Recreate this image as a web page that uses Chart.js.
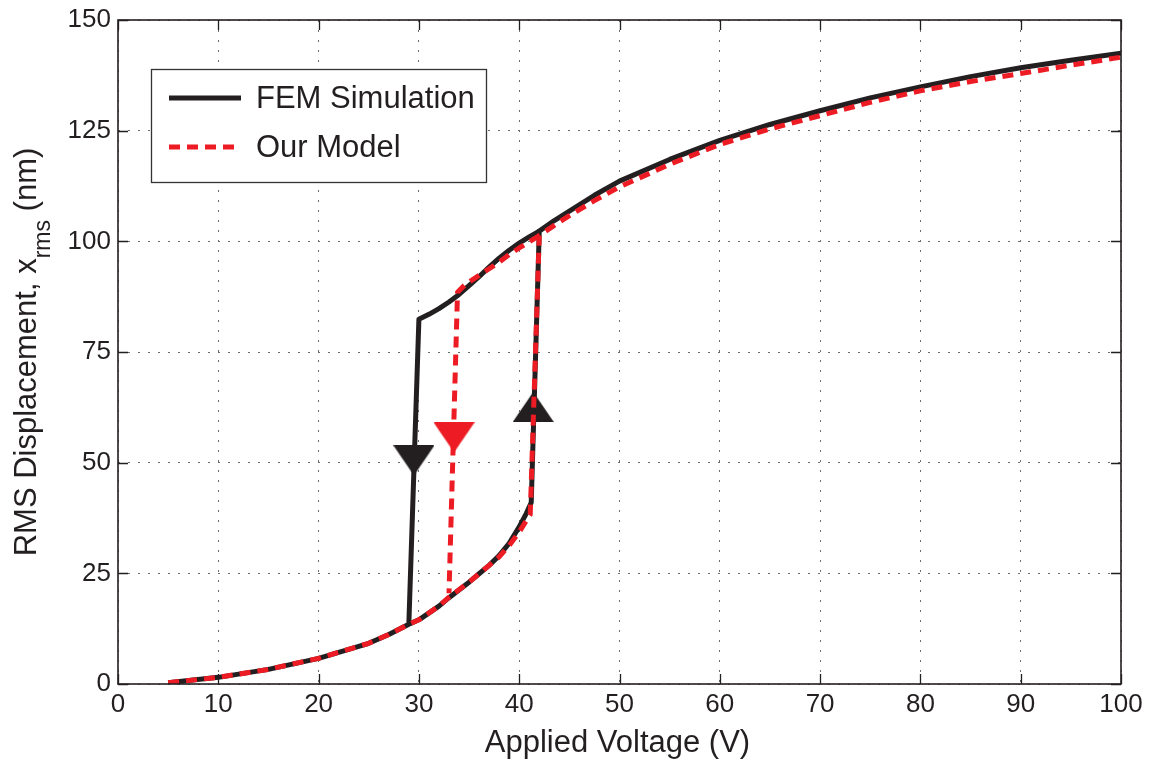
<!DOCTYPE html>
<html>
<head>
<meta charset="utf-8">
<script src="https://cdn.jsdelivr.net/npm/chart.js@4.4.1/dist/chart.umd.min.js"></script>
<style>
  html, body { margin: 0; padding: 0; background: #ffffff; }
  #wrap { width: 1151px; height: 762px; }
</style>
</head>
<body>
<div id="wrap"><canvas id="c" width="1151" height="762"></canvas></div>
<script>
// ---------- DATA ----------
// FEM simulation, forward (increasing voltage) sweep
const femFwdV = [5, 10, 15, 20, 25, 27, 29, 30, 32, 33, 35, 36, 37, 38, 39, 40, 40.7, 41.2, 42, 43.5, 45, 47.5, 50, 55, 60, 65, 70, 75, 80, 85, 90, 95, 100];
const femFwdY = [0.3, 1.5, 3.3, 5.8, 9.2, 11.2, 13.5, 14.5, 17.6, 19.5, 23, 24.9, 26.8, 29, 31.8, 35.5, 38.5, 41, 102.3, 104.7, 106.8, 110.4, 113.6, 118.5, 122.8, 126.4, 129.5, 132.4, 134.9, 137.2, 139.2, 140.9, 142.5];
// FEM simulation, backward (decreasing voltage) branch
const femBackV = [42, 41, 40, 39, 38, 37, 36, 35, 34, 33, 32, 31, 30, 29];
const femBackY = [102.3, 101, 99.6, 98, 96.2, 94.2, 92, 90, 88, 86.3, 84.8, 83.5, 82.4, 13.8];
// Our model, forward sweep
const modelFwdV = [5, 10, 15, 20, 25, 27, 29, 30, 32, 33, 35, 36, 37, 38, 39, 40, 40.6, 41.1, 42, 43.5, 45, 47.5, 50, 55, 60, 65, 70, 75, 80, 85, 90, 95, 100];
const modelFwdY = [0.3, 1.5, 3.3, 5.8, 9.2, 11.2, 13.5, 14.5, 17.6, 19.6, 23, 24.9, 26.8, 28.7, 31.3, 34.3, 36.5, 38.3, 101.3, 103.6, 105.8, 109.2, 112.3, 117.4, 121.9, 125.4, 128.4, 131.4, 134.0, 136.1, 137.9, 139.8, 141.6];
// Our model, backward branch
const modelBackV = [42, 41, 40, 39, 38, 37, 36, 35, 34.6, 33.85, 33.0];
const modelBackY = [101.3, 99.9, 98.5, 97.0, 95.3, 93.8, 92.3, 90.8, 90.2, 88.5, 20.5];
// Direction arrows (marker centres)
const arrowFemDownV = [29.5];
const arrowFemDownY = [50.5];
const arrowFemUpV = [41.4];
const arrowFemUpY = [62.6];
const arrowModelDownV = [33.5];
const arrowModelDownY = [55.7];
// Axis ticks / labels
const xTicks = [0, 10, 20, 30, 40, 50, 60, 70, 80, 90, 100];
const yTicks = [0, 25, 50, 75, 100, 125, 150];
const seriesLabels = ['FEM Simulation', 'Our Model'];
const xTitle = 'Applied Voltage (V)';
const yTitleMain = 'RMS Displacement, x';
const yTitleSub = 'rms';
const yTitleEnd = ' (nm)';

// ---------- STYLE ----------
const BLACK = '#231f20';
const RED = '#ed1c24';
const FONT = '"Liberation Sans", Arial, Helvetica, sans-serif';

function pts(xs, ys) { return xs.map((v, i) => ({ x: v, y: ys[i] })); }

function triangle(color, up) {
  const c = document.createElement('canvas');
  c.width = 41; c.height = 30;
  const g = c.getContext('2d');
  g.fillStyle = color;
  g.beginPath();
  if (up) { g.moveTo(20.5, 0); g.lineTo(41, 30); g.lineTo(0, 30); }
  else { g.moveTo(0, 0); g.lineTo(41, 0); g.lineTo(20.5, 30); }
  g.closePath();
  g.fill();
  return c;
}

const lineBase = { pointRadius: 0, pointHoverRadius: 0, tension: 0, borderWidth: 5, fill: false, borderJoinStyle: 'round', spanGaps: false };

const datasets = [
  Object.assign({ label: seriesLabels[1], data: pts(modelFwdV, modelFwdY), borderColor: RED, borderDash: [11, 7], order: 0 }, lineBase),
  Object.assign({ label: seriesLabels[1] + ' (return)', data: pts(modelBackV, modelBackY), borderColor: RED, borderDash: [11, 7], order: 0 }, lineBase),
  { label: 'arrow1', data: pts(arrowFemDownV, arrowFemDownY), showLine: false, pointStyle: triangle(BLACK, false), pointRadius: 15, order: 1 },
  { label: 'arrow2', data: pts(arrowFemUpV, arrowFemUpY), showLine: false, pointStyle: triangle(BLACK, true), pointRadius: 15, order: 1 },
  { label: 'arrow3', data: pts(arrowModelDownV, arrowModelDownY), showLine: false, pointStyle: triangle(RED, false), pointRadius: 15, order: 1 },
  Object.assign({ label: seriesLabels[0], data: pts(femFwdV, femFwdY), borderColor: BLACK, order: 2 }, lineBase),
  Object.assign({ label: seriesLabels[0] + ' (return)', data: pts(femBackV, femBackY), borderColor: BLACK, order: 2 }, lineBase)
];

const decor = {
  id: 'decor',
  afterDraw(chart) {
    const ctx = chart.ctx;
    const a = chart.chartArea;
    const xs = chart.scales.x, ys = chart.scales.y;
    ctx.save();
    // inward ticks
    ctx.strokeStyle = BLACK;
    ctx.lineWidth = 1.3;
    ctx.beginPath();
    xTicks.forEach(v => {
      const px = Math.round(xs.getPixelForValue(v)) + 0.5;
      ctx.moveTo(px, a.bottom); ctx.lineTo(px, a.bottom - 10);
      ctx.moveTo(px, a.top); ctx.lineTo(px, a.top + 10);
    });
    yTicks.forEach(v => {
      const py = Math.round(ys.getPixelForValue(v)) + 0.5;
      ctx.moveTo(a.left, py); ctx.lineTo(a.left + 10, py);
      ctx.moveTo(a.right, py); ctx.lineTo(a.right - 10, py);
    });
    ctx.stroke();
    // frame
    ctx.lineWidth = 1.6;
    ctx.strokeRect(a.left, a.top, a.right - a.left, a.bottom - a.top);

    // x title
    ctx.fillStyle = BLACK;
    ctx.font = '31px ' + FONT;
    ctx.textAlign = 'center';
    ctx.textBaseline = 'alphabetic';
    ctx.fillText(xTitle, (a.left + a.right) / 2 - 2, 752);

    // y title with subscript
    const mainFont = '31px ' + FONT;
    const subFont = '23px ' + FONT;
    ctx.font = mainFont; const w1 = ctx.measureText(yTitleMain).width;
    const w3 = ctx.measureText(yTitleEnd).width;
    ctx.font = subFont; const w2 = ctx.measureText(yTitleSub).width;
    const total = w1 + w2 + w3;
    ctx.save();
    ctx.translate(36, (a.top + a.bottom) / 2);
    ctx.rotate(-Math.PI / 2);
    ctx.textAlign = 'left';
    let sx = -total / 2;
    ctx.font = mainFont; ctx.fillText(yTitleMain, sx, 0); sx += w1;
    ctx.font = subFont; ctx.fillText(yTitleSub, sx, 14); sx += w2;
    ctx.font = mainFont; ctx.fillText(yTitleEnd, sx, 0);
    ctx.restore();

    // legend box
    const lx = 151.5, ly = 69.5, lw = 335, lh = 113;
    ctx.fillStyle = '#ffffff';
    ctx.fillRect(lx, ly, lw, lh);
    ctx.strokeStyle = '#333';
    ctx.lineWidth = 1.3;
    ctx.strokeRect(lx, ly, lw, lh);
    const entries = [
      { ds: chart.data.datasets[5], y: 98 },
      { ds: chart.data.datasets[0], y: 147 }
    ];
    entries.forEach(e => {
      ctx.save();
      ctx.strokeStyle = e.ds.borderColor;
      ctx.lineWidth = 5;
      ctx.setLineDash(e.ds.borderDash || []);
      ctx.beginPath();
      ctx.moveTo(169, e.y); ctx.lineTo(241, e.y);
      ctx.stroke();
      ctx.restore();
      ctx.fillStyle = BLACK;
      ctx.font = '31px ' + FONT;
      ctx.textAlign = 'left';
      ctx.textBaseline = 'alphabetic';
      ctx.fillText(e.ds.label, 256, e.y + 10);
    });
    ctx.restore();
  }
};

new Chart(document.getElementById('c'), {
  type: 'line',
  data: { datasets: datasets },
  options: {
    responsive: false,
    animation: false,
    parsing: true,
    layout: { padding: { top: 15, right: 30, left: 0, bottom: 0 } },
    plugins: { legend: { display: false }, tooltip: { enabled: false } },
    scales: {
      x: {
        type: 'linear', min: 0, max: 100,
        afterBuildTicks(s) { s.ticks = xTicks.map(v => ({ value: v })); },
        afterFit(s) { s.height = 78; },
        ticks: { font: { family: FONT, size: 26, lineHeight: 1 }, color: BLACK, padding: 8, maxRotation: 0 },
        grid: { color: '#6d6d6d', lineWidth: 1, drawTicks: false },
        border: { display: false, dash: [2, 8] }
      },
      y: {
        type: 'linear', min: 0, max: 150,
        afterBuildTicks(s) { s.ticks = yTicks.map(v => ({ value: v })); },
        afterFit(s) { s.width = 118; },
        ticks: { font: { family: FONT, size: 26, lineHeight: 1 }, color: BLACK, padding: 7 },
        grid: { color: '#6d6d6d', lineWidth: 1, drawTicks: false },
        border: { display: false, dash: [2, 8] }
      }
    }
  },
  plugins: [decor]
});
</script>
</body>
</html>
